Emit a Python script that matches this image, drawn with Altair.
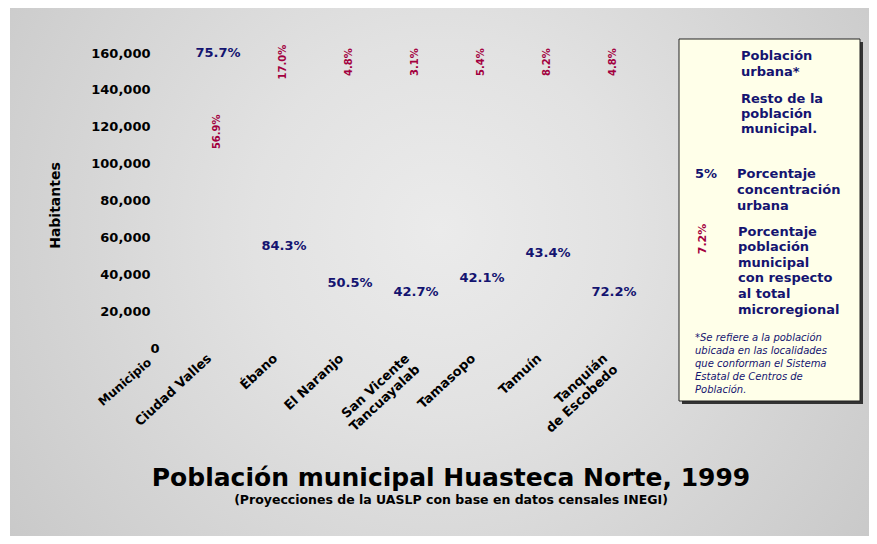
import json
import altair as alt
import pandas as pd

# ---------------- data ----------------
municipios = ["Ciudad Valles", "Ébano", "El Naranjo", "San Vicente Tancuayalab",
              "Tamasopo", "Tamuín", "Tanquián de Escobedo"]
etiquetas_multilinea = {"San Vicente Tancuayalab": ["San Vicente", "Tancuayalab"],
                        "Tanquián de Escobedo": ["Tanquián", "de Escobedo"]}
pct_urbana = ["75.7%", "84.3%", "50.5%", "42.7%", "42.1%", "43.4%", "72.2%"]
pos_urbana = [160000, 55300, 35300, 30400, 38000, 51500, 30400]
pct_region = ["56.9%", "17.0%", "4.8%", "3.1%", "5.4%", "8.2%", "4.8%"]
pos_region = [120000, 157800, 157800, 157800, 157800, 157800, 157800]
y_ticks = [0, 20000, 40000, 60000, 80000, 100000, 120000, 140000, 160000]

titulo = "Población municipal Huasteca Norte, 1999"
subtitulo = "(Proyecciones de la UASLP con base en datos censales INEGI)"

BLUE = "#141470"
RED = "#a3003f"
FONT = "DejaVu Sans"

df_urb = pd.DataFrame({"municipio": municipios, "pct": pct_urbana, "pos": pos_urbana})
df_reg = pd.DataFrame({"municipio": municipios, "pct": pct_region, "pos": pos_region})
one = pd.DataFrame({"k": [0]})

label_expr = "".join(
    f"datum.label === {json.dumps(k, ensure_ascii=False)} ? {json.dumps(v, ensure_ascii=False)} : "
    for k, v in etiquetas_multilinea.items()
) + "datum.label"

x_enc = alt.X(
    "municipio:N",
    sort=municipios,
    scale=alt.Scale(type="point", domain=municipios, padding=0.94),
    axis=alt.Axis(
        title="Municipio", titleAngle=319, titleAlign="right", titleBaseline="middle",
        titleX=-6, titleY=12, titleFont=FONT, titleFontSize=12, titleFontWeight="bold",
        titleColor="black",
        labelAngle=317, labelAlign="right", labelBaseline="middle", labelPadding=8,
        labelOffset=-8, labelFont=FONT, labelFontSize=13, labelFontWeight="bold",
        labelColor="black", labelExpr=label_expr, labelLineHeight=15,
        labelOverlap=False, labelLimit=0,
        domain=False, ticks=False, grid=False, zindex=2,
    ),
)
y_enc = alt.Y(
    "pos:Q",
    scale=alt.Scale(domain=[0, 160000], nice=False, zero=True),
    axis=alt.Axis(
        title="Habitantes", values=y_ticks, format=",d", titleAngle=270,
        titleX=-100, titleY=152, titleAlign="center", titleBaseline="middle",
        titleFont=FONT, titleFontSize=14, titleFontWeight="bold", titleColor="black",
        labelFont=FONT, labelFontSize=13, labelFontWeight="bold", labelColor="black",
        labelAlign={"condition": {"test": "datum.value === 0", "value": "left"},
                    "value": "right"},
        labelPadding=5, labelOverlap=False, labelLimit=0,
        domain=False, ticks=False, grid=False, zindex=2,
    ),
)

# ---------------- background ----------------
fondo = alt.Chart(one).mark_rect(
    fill=alt.Gradient(
        gradient="radial",
        stops=[alt.GradientStop(color="#ebebeb", offset=0),
               alt.GradientStop(color="#e2e2e2", offset=0.35),
               alt.GradientStop(color="#c9c9c9", offset=1)],
        x1=0.5, y1=0.45, x2=0.5, y2=0.45, r1=0, r2=0.62,
    )
).encode(x=alt.value(-145), x2=alt.value(714), y=alt.value(-45), y2=alt.value(483))

# ---------------- data labels ----------------
urb = alt.Chart(df_urb).mark_text(
    font=FONT, fontSize=13, fontWeight="bold", color=BLUE, align="center",
    baseline="middle", dx=1
).encode(x=x_enc, y=y_enc, text="pct:N")

reg = alt.Chart(df_reg).mark_text(
    font=FONT, fontSize=10, fontWeight="bold", color=RED, align="center",
    baseline="middle", angle=270, dx=-5
).encode(x=x_enc, y=y_enc, text="pct:N")

# ---------------- legend box ----------------
sombra = alt.Chart(one).mark_rect(fill="#333333").encode(
    x=alt.value(527), x2=alt.value(708), y=alt.value(-11), y2=alt.value(351))
caja = alt.Chart(one).mark_rect(fill="#ffffe9", stroke="#222222", strokeWidth=1).encode(
    x=alt.value(524), x2=alt.value(705), y=alt.value(-14), y2=alt.value(348))


def bloque(lines, x, y, lh, size=13, color=BLUE, weight="bold", style="normal"):
    return alt.Chart(one).mark_text(
        text=lines, align="left", baseline="alphabetic", lineHeight=lh, font=FONT,
        fontSize=size, fontWeight=weight, fontStyle=style, color=color
    ).encode(x=alt.value(x), y=alt.value(y))


leg = [
    bloque(["Población", "urbana*"], 586, 7, 16),
    bloque(["Resto de la", "población", "municipal."], 586, 50, 15),
    bloque(["5%"], 540, 125, 16),
    bloque(["Porcentaje", "concentración", "urbana"], 582, 125, 16),
    bloque(["Porcentaje", "población", "municipal", "con respecto", "al total",
            "microregional"], 583, 182.5, 15.6),
    bloque(["*Se refiere a la población", "ubicada en las localidades",
            "que conforman el Sistema", "Estatal de Centros de", "Población."],
           540, 288, 13, size=10, weight="normal", style="italic"),
    alt.Chart(one).mark_text(
        text="7.2%", align="center", baseline="middle", angle=270, font=FONT,
        fontSize=11, fontWeight="bold", color=RED
    ).encode(x=alt.value(548), y=alt.value(186)),
]

# ---------------- title ----------------
tit = alt.Chart(one).mark_text(
    text=titulo, align="center", baseline="middle", font=FONT, fontSize=25,
    fontWeight="bold", color="black"
).encode(x=alt.value(296), y=alt.value(425))
sub = alt.Chart(one).mark_text(
    text=subtitulo, align="center", baseline="middle", font=FONT, fontSize=12.5,
    fontWeight="bold", color="black"
).encode(x=alt.value(296), y=alt.value(447))

chart = alt.layer(fondo, urb, reg, sombra, caja, *leg, tit, sub).properties(
    width=520,
    height=295,
    padding={"left": 147, "top": 45, "right": 194, "bottom": 188},
    autosize=alt.AutoSizeParams(type="none"),
).configure(background="white").configure_view(stroke=None)

chart.save("out.html", embed_options={"renderer": "svg", "actions": False})
